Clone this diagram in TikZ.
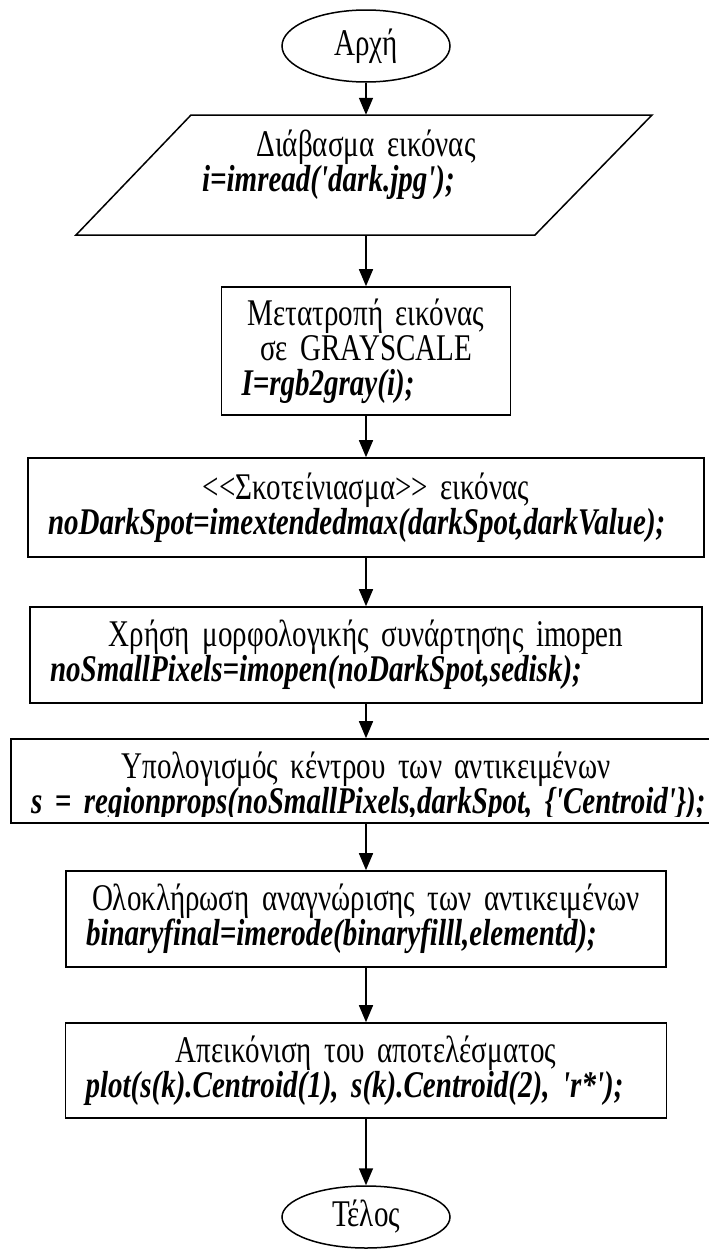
\documentclass[tikz,border=0pt]{standalone}
\usepackage{fontspec}
\setmainfont{Liberation Serif}[Ligatures=TeXOff,FakeStretch=0.77]
\usetikzlibrary{shapes.geometric,arrows.meta}

\newcommand{\flowfont}{\fontsize{37.7}{35}\selectfont}
\newcommand{\code}[1]{\mbox{\bfseries\itshape #1}}
\newcommand{\ttl}[1]{\makebox[\linewidth]{#1}}

\begin{document}
\begin{tikzpicture}[x=1pt,y=-1pt,
  font=\flowfont,
  term/.style={draw,ellipse,line width=1.5pt,minimum width=168pt,inner sep=0pt},
  proc/.style={draw,rectangle,line width=1.6pt,inner xsep=20pt,inner ysep=0pt,align=left},
  flow/.style={-{Triangle[length=17pt,width=14pt]},line width=1.5pt}]
\useasboundingbox (0,0) rectangle (709,1250);
\node[term,minimum height=72pt] (start) at (366,46) {Αρχή};
\node[align=left,text width=328pt,minimum height=120pt,inner sep=0pt] (read) at (366,175)
  {\ttl{Διάβασμα εικόνας}\\ \code{i=imread('dark.jpg');}\par\kern20pt};
\draw[line width=1.5pt,shift={(read.center)}] (-175,-60) -- (286,-60) -- (169,60) -- (-290,60) -- cycle;
\node[proc,text width=249pt,minimum height=128pt] (gray) at (366,351)
  {\ttl{Μετατροπή εικόνας}\\ \ttl{σε GRAYSCALE}\\ \code{I=rgb2gray(i);}};
\node[proc,text width=636pt,minimum height=99pt] (dark) at (366,507.5)
  {\ttl{<<Σκοτείνιασμα>> εικόνας}\\ \code{noDarkSpot=imextendedmax(darkSpot,darkValue);}};
\node[proc,text width=632pt,minimum height=96pt] (open) at (366,655)
  {\ttl{Χρήση μορφολογικής συνάρτησης imopen}\\ \code{noSmallPixels=imopen(noDarkSpot,sedisk);}};
\node[proc,minimum width=710pt,minimum height=84pt] (cent) at (366,781) {};
\begin{scope}
\clip (0,740) rectangle (709,816);
\node[proc,draw=none,text width=670pt] (centtxt) at (366,787)
  {\ttl{Υπολογισμός κέντρου των αντικειμένων}\\ \code{s = regionprops(noSmallPixels,darkSpot, \{'Centroid'\});}};
\end{scope}
\node[proc,text width=560pt,minimum height=96pt] (erode) at (366,919)
  {\ttl{Ολοκλήρωση αναγνώρισης των αντικειμένων}\\ \code{binaryfinal=imerode(binaryfilll,elementd);}};
\node[proc,text width=561pt,minimum height=95pt] (show) at (366,1070.5)
  {\ttl{Απεικόνιση του αποτελέσματος}\\ \code{plot(s(k).Centroid(1), s(k).Centroid(2), 'r*');}};
\node[term,minimum height=62pt] (end) at (366,1217) {Τέλος};
\draw[flow] (start) -- (read);
\draw[flow] (read) -- (gray);
\draw[flow] (gray) -- (dark);
\draw[flow] (dark) -- (open);
\draw[flow] (open) -- (cent);
\draw[flow] (cent) -- (erode);
\draw[flow] (erode) -- (show);
\draw[flow] (show) -- (end);
\end{tikzpicture}
\end{document}
